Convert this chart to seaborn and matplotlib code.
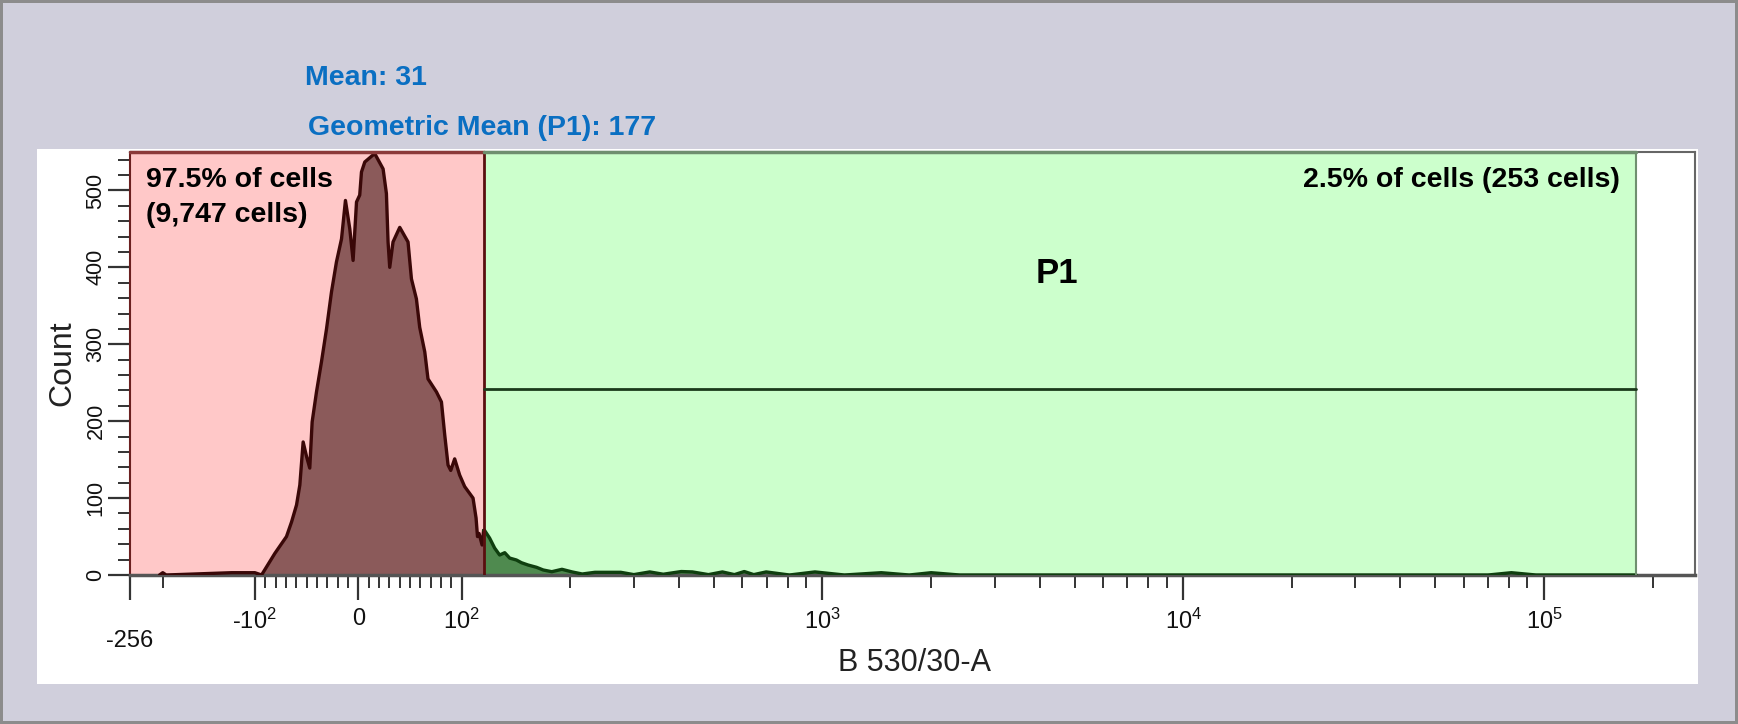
import numpy as np
import matplotlib
matplotlib.use("Agg")
import matplotlib.pyplot as plt
from matplotlib.patches import Rectangle
from matplotlib.ticker import FixedLocator, FixedFormatter
import seaborn as sns

# histogram (intensity, count)
red_x = [-205, -200, -195, -119, -100, -93.5, -80.7, -69.4, -64.5, -59.7, -56.5, -53.3, -50, -46.9,
         -44.6, -40.4, -35.6, -30.7, -25.9, -21.1, -16.2, -12.4, -8.2, -5.0, -1.7, 1.4, 3.1, 6.3,
         15.9, 24.0, 27.2, 28.8, 30.4, 33.6, 40.1, 48.1, 51.4, 56.2, 59.4, 64.3, 67.4, 75.6, 80.4,
         83.6, 86.8, 89.4, 93.2, 98.0, 101.9, 107.5, 109.6, 110.6, 111.7, 113.9, 115]
red_counts = [0, 3, 0, 3, 3, 0, 28, 50, 69, 91, 117, 173, 154, 139,
              199, 238, 277, 320, 368, 407, 437, 487, 450, 409, 485, 494, 524, 537,
              548, 528, 496, 433, 400, 433, 452, 433, 385, 359, 322, 290, 255, 238, 225,
              182, 143, 136, 151, 130, 115, 100, 74, 50, 54, 39, 58]

green_x = [115, 115.7, 119.5, 123.4, 127.4, 131.6, 135.8, 141.8, 146.4, 152.7, 161.2, 168.3, 177.7,
           189.6, 202.3, 215.8, 234, 254, 276, 300, 332, 362, 406, 436, 483, 528, 570, 607, 645,
           698, 810, 953, 1150, 1455, 1740, 2001, 2400, 70000, 81200, 95000, 180000]
green_counts = [58, 58, 48, 35, 26, 29, 22, 19.5, 16, 13, 10, 6.5, 4.3,
                7.4, 4, 1.3, 3.5, 3.5, 3.5, 0.5, 4, 1, 4.5, 4, 0.5, 4, 0.5, 4.5, 0.5,
                4, 0, 4, 0, 3, 0, 3, 0, 0, 3, 0, 0]

gate = 115
gate_right = 180000
marker_count = 242
x_min, x_max = -256, 262144
y_max = 550

x_major = [-256, -100, 0, 100, 1000, 10000, 100000]
x_major_labels = ['', r'-$\mathregular{10^{2}}$', '0', r'$\mathregular{10^{2}}$',
                  r'$\mathregular{10^{3}}$', r'$\mathregular{10^{4}}$', r'$\mathregular{10^{5}}$']
x_minor = ([-200] + list(range(-90, 0, 10)) + list(range(10, 100, 10)) + list(range(200, 1000, 100))
           + list(range(2000, 10000, 1000)) + list(range(20000, 100000, 10000)) + [200000])


# biexponential-like axis: linear around zero, log above 100
LIN = 1.035
DEC = 361.0
NDEC = 306.0


def fwd(v):
    v = np.asarray(v, dtype=float)
    out = v * LIN
    with np.errstate(divide='ignore', invalid='ignore'):
        hi = 100 * LIN + DEC * np.log10(np.abs(v) / 100)
        lo = -100 * LIN - NDEC * np.log10(np.abs(v) / 100)
    out = np.where(v > 100, hi, out)
    out = np.where(v < -100, lo, out)
    return out


def inv(u):
    u = np.asarray(u, dtype=float)
    out = u / LIN
    with np.errstate(over='ignore'):
        hi = 100 * 10 ** ((u - 100 * LIN) / DEC)
        lo = -100 * 10 ** ((-u - 100 * LIN) / NDEC)
    out = np.where(u > 100 * LIN, hi, out)
    out = np.where(u < -100 * LIN, lo, out)
    return out


sns.set_style('white')
plt.rcParams['font.family'] = ['Liberation Sans', 'DejaVu Sans']
plt.rcParams['mathtext.fontset'] = 'custom'
plt.rcParams['mathtext.rm'] = 'Liberation Sans'

W, H = 1738, 724
fig = plt.figure(figsize=(W / 100, H / 100), dpi=100)
fig.patch.set_facecolor('#d0cfdc')
fig.patch.set_edgecolor('#8c8c8c')
fig.patch.set_linewidth(3)

fig.patches.append(Rectangle((37 / W, 1 - 684 / H), (1698 - 37) / W, (684 - 149) / H,
                             transform=fig.transFigure, fc='white', ec='none', zorder=-1))

ax = fig.add_axes([130 / W, 1 - 575 / H, (1695 - 130) / W, (575 - 152) / H])
ax.set_xscale('function', functions=(fwd, inv))
ax.set_xlim(x_min, x_max)
ax.set_ylim(0, y_max)
ax.set_facecolor('white')

# gates
ax.axvspan(x_min, gate, color='#ffc8c8', zorder=0.5, lw=0)
ax.axvspan(gate, gate_right, color='#ccffcc', zorder=0.5, lw=0)
ax.plot([x_min, gate], [y_max, y_max], color='#8b3a3a', lw=2.5, zorder=5, clip_on=False)
ax.plot([gate, gate_right], [y_max, y_max], color='#6f8f6f', lw=2.5, zorder=5, clip_on=False)
ax.axvline(gate_right, color='#6f8f6f', lw=1.5, zorder=4)

# histogram
ax.fill_between(red_x, red_counts, color='#8b5a5a', lw=0, zorder=2)
sns.lineplot(x=red_x, y=red_counts, ax=ax, color='#3a0808', lw=2.4, zorder=3)
ax.fill_between(green_x, green_counts, color='#4f8a4f', lw=0, zorder=2)
sns.lineplot(x=green_x, y=green_counts, ax=ax, color='#0f3f0f', lw=2.4, zorder=3)

ax.axvline(gate, color='#5a0f0f', lw=2, zorder=4)
ax.plot([gate, gate_right], [marker_count, marker_count], color='#1a3a1a', lw=2, zorder=4)

# spines
for side in ['top', 'right']:
    ax.spines[side].set_color('#666666')
    ax.spines[side].set_linewidth(1.5)
ax.spines['left'].set_color('#6b2020')
ax.spines['left'].set_linewidth(1.5)
ax.spines['bottom'].set_color('#555555')
ax.spines['bottom'].set_linewidth(2.5)

# ticks
ax.xaxis.set_major_locator(FixedLocator(x_major))
ax.xaxis.set_major_formatter(FixedFormatter(x_major_labels))
ax.xaxis.set_minor_locator(FixedLocator(x_minor))
ax.yaxis.set_major_locator(FixedLocator(range(0, 501, 100)))
ax.yaxis.set_minor_locator(FixedLocator(range(0, 551, 20)))
ax.tick_params(axis='both', which='major', direction='out', color='#333333', width=1.6,
               length=18, pad=1, labelcolor='#111111')
ax.tick_params(axis='both', which='minor', direction='out', color='#333333', width=1.4, length=9)
ax.tick_params(axis='x', which='major', labelsize=17, pad=6)
ax.tick_params(axis='y', which='major', labelsize=15.5, length=16)
ax.tick_params(bottom=True, left=True, top=False, right=False)
ax.tick_params(axis='both', which='minor', bottom=True, left=True)
for lab in ax.get_yticklabels():
    lab.set_rotation(90)
    lab.set_va('center')
    lab.set_ha('right')

ax.text(-256, -0.155, '-256', transform=ax.get_xaxis_transform(), ha='center', va='center',
        fontsize=17, color='#111111')

ax.set_xlabel('B 530/30-A', fontsize=22, color='#222222')
ax.xaxis.label.set_va('center')
ax.xaxis.set_label_coords((914 - 130) / 1565, (575 - 663) / 423)
ax.set_ylabel('Count', fontsize=23, color='#222222')
ax.yaxis.label.set_va('center')
ax.yaxis.set_label_coords((62 - 130) / 1565, (575 - 363) / 423)

# annotations
ax.text(0.0105, (575 - 187) / 423, '97.5% of cells', transform=ax.transAxes, color='black',
        fontsize=20.5, fontweight='bold', ha='left', va='baseline', zorder=6)
ax.text(0.0105, (575 - 222) / 423, '(9,747 cells)', transform=ax.transAxes, color='black',
        fontsize=20.5, fontweight='bold', ha='left', va='baseline', zorder=6)
ax.text((1620 - 130) / 1565, (575 - 187) / 423, '2.5% of cells (253 cells)', transform=ax.transAxes,
        color='black', fontsize=20.5, fontweight='bold', ha='right', va='baseline', zorder=6)
ax.text((1057 - 130) / 1565, (575 - 283) / 423, 'P1', transform=ax.transAxes, color='black',
        fontsize=25, fontweight='bold', ha='center', va='baseline', zorder=6)

fig.text(305 / W, 1 - 85 / H, 'Mean: 31', fontsize=20.5, fontweight='bold', color='#0a6fc2',
         ha='left', va='baseline')
fig.text(308 / W, 1 - 135 / H, 'Geometric Mean (P1): 177', fontsize=20.5, fontweight='bold',
         color='#0a6fc2', ha='left', va='baseline')

fig.savefig('out.png', dpi=100, facecolor=fig.get_facecolor(), edgecolor=fig.get_edgecolor())
